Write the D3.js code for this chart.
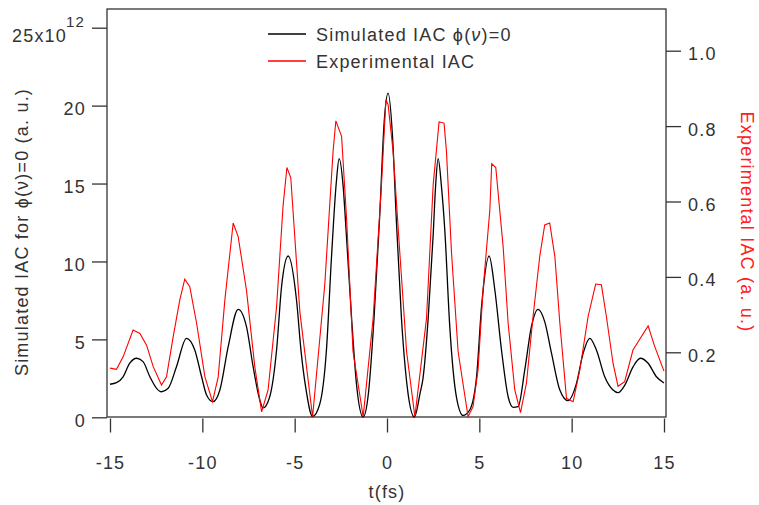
<!DOCTYPE html>
<html>
<head>
<meta charset="utf-8">
<script src="https://cdn.jsdelivr.net/npm/d3@7"></script>
<style>
  body { margin: 0; background: #fff; }
  text { font-family: "Liberation Sans", Arial, sans-serif; }
</style>
</head>
<body>
<div id="chart"></div>
<script>
// ticks
const xTicks = [-15, -10, -5, 0, 5, 10, 15];
const leftTicks = [0, 5, 10, 15, 20, 25];
const rightTicks = [0.2, 0.4, 0.6, 0.8, 1.0];

// simulated IAC, phi(nu)=0 (left axis, x10^12)
const simT = [-15.00, -14.65, -14.29, -13.93, -13.56, -13.21, -12.84, -12.48, -12.21, -11.85,
  -11.40, -10.86, -10.41, -10.04, -9.77, -9.42, -9.05, -8.60, -8.06, -7.61,
  -7.25, -6.89, -6.71, -6.35, -5.98, -5.71, -5.35, -4.90, -4.65, -4.40,
  -4.03, -3.64, -3.28, -3.00, -2.75, -2.59, -2.38, -2.20, -1.92, -1.65,
  -1.29, -1.00, -0.70, -0.40, -0.15, 0.06, 0.30, 0.50, 0.78, 1.10,
  1.48, 1.80, 1.95, 2.23, 2.50, 2.64, 2.77, 2.95, 3.13, 3.40,
  3.76, 4.12, 4.48, 4.85, 5.12, 5.53, 5.84, 6.20, 6.56, 6.83,
  7.10, 7.46, 7.82, 8.18, 8.54, 8.91, 9.36, 9.80, 10.26, 10.62,
  10.98, 11.34, 11.79, 12.24, 12.51, 12.88, 13.33, 13.72, 14.14, 14.59, 15.00];
const simV = [2.12, 2.22, 2.60, 3.47, 3.79, 3.57, 2.60, 1.86, 1.64, 1.86,
  3.25, 5.07, 4.32, 2.60, 1.43, 1.00, 1.75, 4.53, 6.93, 5.82,
  3.25, 1.11, 0.60, 1.32, 4.32, 8.38, 10.35, 7.53, 4.20, 1.90,
  0.05, 0.85, 4.30, 10.40, 15.00, 16.60, 14.90, 11.70, 6.40, 2.10,
  0.02, 1.60, 6.40, 12.80, 19.00, 20.80, 18.00, 12.80, 6.40, 1.90,
  0.02, 1.60, 2.50, 6.35, 11.70, 15.00, 16.60, 14.80, 12.00, 5.80,
  1.30, 0.12, 0.47, 2.60, 7.10, 10.35, 8.17, 4.32, 1.32, 0.64,
  0.68, 3.04, 5.82, 6.93, 6.14, 4.10, 1.75, 1.07, 2.18, 4.10,
  5.07, 4.32, 2.60, 1.75, 1.58, 2.07, 3.25, 3.79, 3.47, 2.60, 2.20];

// experimental IAC (right axis)
const expT = [-15.00, -14.65, -14.29, -13.75, -13.38, -13.02, -12.66, -12.21, -11.94, -11.58,
  -11.22, -10.95, -10.68, -10.31, -9.86, -9.45, -9.14, -8.78, -8.33, -8.06,
  -7.61, -7.16, -6.79, -6.44, -5.98, -5.63, -5.42, -5.21, -4.72, -4.03,
  -3.37, -2.92, -2.77, -2.46, -2.19, -1.84, -1.29, -0.75, -0.30, -0.06,
  0.06, 0.33, 0.69, 1.06, 1.51, 2.14, 2.50, 2.82, 3.09, 3.22,
  3.49, 3.85, 4.39, 4.66, 4.93, 5.20, 5.57, 5.67, 5.89, 6.29,
  6.56, 6.92, 7.23, 7.55, 7.91, 8.27, 8.54, 8.81, 9.09, 9.36,
  9.72, 10.08, 10.44, 10.89, 11.30, 11.61, 11.88, 12.24, 12.51, 12.87,
  13.32, 13.60, 14.14, 14.50, 15.00];
const expV = [0.158, 0.155, 0.188, 0.259, 0.250, 0.219, 0.162, 0.113, 0.135, 0.241,
  0.339, 0.394, 0.374, 0.277, 0.135, 0.069, 0.135, 0.339, 0.543, 0.507,
  0.365, 0.162, 0.042, 0.100, 0.321, 0.587, 0.690, 0.663, 0.308, 0.029,
  0.379, 0.733, 0.814, 0.773, 0.556, 0.202, 0.029, 0.290, 0.644, 0.870,
  0.857, 0.733, 0.467, 0.202, 0.029, 0.290, 0.644, 0.811, 0.808, 0.733,
  0.467, 0.202, 0.029, 0.056, 0.153, 0.365, 0.578, 0.700, 0.690, 0.480,
  0.277, 0.100, 0.040, 0.118, 0.295, 0.454, 0.538, 0.543, 0.454, 0.277,
  0.078, 0.069, 0.153, 0.295, 0.381, 0.379, 0.295, 0.171, 0.110, 0.122,
  0.206, 0.228, 0.270, 0.215, 0.150];

const width = 759, height = 505;
const frame = {left: 107, right: 666, top: 9, bottom: 417};
const ink = "#333";

const svg = d3.select("#chart").append("svg")
  .attr("width", width)
  .attr("height", height);

const x = d3.scaleLinear().domain([-15, 15]).range([110, 664]);
const yL = d3.scaleLinear().domain([0, 25]).range([417.3, 27.7]);
const yR = d3.scaleLinear().domain([0.2, 1.0]).range([352.3, 50.7]);

function styleAxis(g) {
  g.select(".domain").remove();
  g.selectAll(".tick line").attr("stroke", ink).attr("stroke-width", 1.3);
  g.selectAll(".tick text")
    .attr("fill", ink)
    .style("font-size", "18px")
    .style("letter-spacing", "1.2px");
}

// left axis
svg.append("g")
  .attr("transform", `translate(${frame.left},0)`)
  .call(d3.axisLeft(yL).tickValues(leftTicks).tickSize(15).tickPadding(6)
    .tickFormat(d => d === 25 ? "" : String(d)))
  .call(styleAxis)
  .call(g => g.selectAll(".tick text").attr("dy", "0.5em"));

const expLabel = svg.append("text")
  .attr("x", 12).attr("y", 42)
  .attr("fill", ink)
  .style("font-size", "18px")
  .style("letter-spacing", "1.2px");
expLabel.append("tspan").text("25x10");
expLabel.append("tspan").attr("dx", -1).attr("dy", -15).style("font-size", "15px").text("12");

// right axis
svg.append("g")
  .attr("transform", `translate(${frame.right},0)`)
  .call(d3.axisRight(yR).tickValues(rightTicks).tickSize(15).tickPadding(7)
    .tickFormat(d3.format(".1f")))
  .call(styleAxis)
  .call(g => g.selectAll(".tick text").attr("dy", "0.5em"));

// bottom axis
svg.append("g")
  .attr("transform", `translate(0,${frame.bottom + 1.5})`)
  .call(d3.axisBottom(x).tickValues(xTicks).tickSize(14).tickPadding(24)
    .tickFormat(d => String(d)))
  .call(styleAxis);

// frame
svg.append("rect")
  .attr("x", frame.left).attr("y", frame.top)
  .attr("width", frame.right - frame.left)
  .attr("height", frame.bottom - frame.top)
  .attr("fill", "none")
  .attr("stroke", ink)
  .attr("stroke-width", 1.3);

// curves
const simLine = d3.line()
  .x((d, i) => x(simT[i]))
  .y(d => yL(d))
  .curve(d3.curveMonotoneX);

const expLine = d3.line()
  .x((d, i) => x(expT[i]))
  .y(d => yR(d));

svg.append("path")
  .datum(simV)
  .attr("d", simLine)
  .attr("fill", "none")
  .attr("stroke", "#000")
  .attr("stroke-width", 1.3);

svg.append("path")
  .datum(expV)
  .attr("d", expLine)
  .attr("fill", "none")
  .attr("stroke", "#ff0000")
  .attr("stroke-width", 1.1);

// axis titles
svg.append("text")
  .attr("transform", "translate(28,232) rotate(-90)")
  .attr("text-anchor", "middle")
  .attr("fill", ink)
  .style("font-size", "18px")
  .style("letter-spacing", "1.2px")
  .text("Simulated IAC for ϕ(ν)=0 (a. u.)");

svg.append("text")
  .attr("transform", "translate(741,222) rotate(90)")
  .attr("text-anchor", "middle")
  .attr("fill", "#ff2020")
  .style("font-size", "18px")
  .style("letter-spacing", "1.2px")
  .text("Experimental IAC (a. u.)");

svg.append("text")
  .attr("x", 387).attr("y", 498)
  .attr("text-anchor", "middle")
  .attr("fill", ink)
  .style("font-size", "18px")
  .style("letter-spacing", "1.2px")
  .text("t(fs)");

// legend
const legend = [
  {label: "Simulated IAC ϕ(", nu: "ν", tail: ")=0", color: "#000", y: 34},
  {label: "Experimental IAC", nu: "", tail: "", color: "#ff0000", y: 61}
];
const lg = svg.append("g");
legend.forEach(d => {
  lg.append("line")
    .attr("x1", 268).attr("x2", 306)
    .attr("y1", d.y).attr("y2", d.y)
    .attr("stroke", d.color)
    .attr("stroke-width", 1.3);
  const t = lg.append("text")
    .attr("x", 316).attr("y", d.y + 7)
    .attr("fill", ink)
    .style("font-size", "18px")
    .style("letter-spacing", "1.2px");
  t.append("tspan").text(d.label);
  if (d.nu) {
    t.append("tspan").style("font-style", "italic").text(d.nu);
    t.append("tspan").text(d.tail);
  }
});
</script>
</body>
</html>
